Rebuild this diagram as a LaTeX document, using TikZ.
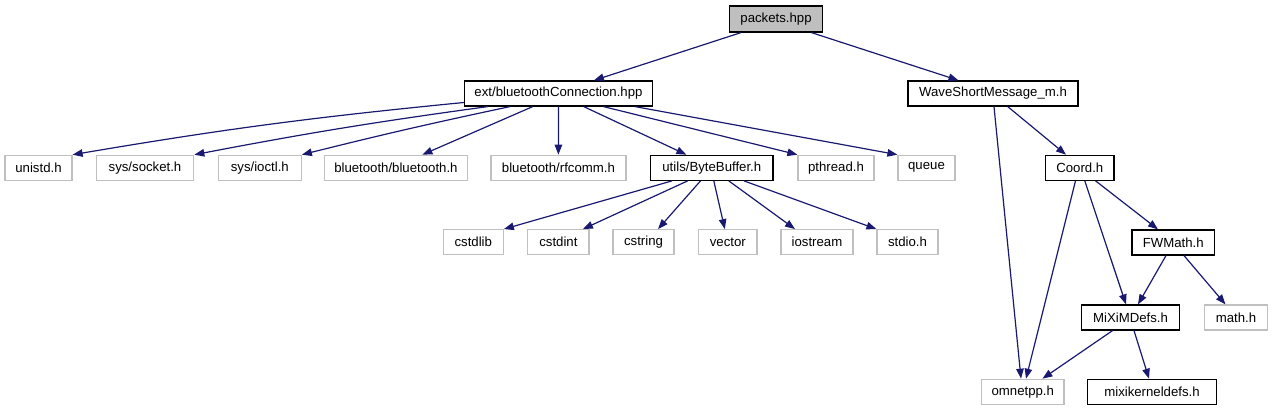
\documentclass[tikz,border=0pt]{standalone}
\usepackage{fontspec}
\setmainfont{Liberation Sans}
\usetikzlibrary{arrows.meta}
\definecolor{edgeblue}{HTML}{191970}
\definecolor{lgray}{HTML}{C0C0C0}
\definecolor{rootfill}{HTML}{BFBFBF}
\begin{document}
\begin{tikzpicture}[x=1pt,y=-1pt,
  box/.style={draw=black,line width=1.2pt,minimum height=25pt,inner sep=0pt,
    font=\fontsize{13.2}{15}\selectfont},
  gbox/.style={box,draw=lgray},
  edge/.style={draw=edgeblue,line width=1.2pt,-{Triangle[length=10pt,width=7.5pt]}}]
\useasboundingbox (0,0) rectangle (1272,411);
% row 0
\node[box,fill=rootfill,minimum width=93pt,minimum height=26pt] (packets) at (776,19) {packets.hpp};
% row 1
\node[box,minimum width=188pt] (ext) at (558.5,93.5) {ext/bluetoothConnection.hpp};
\node[box,minimum width=170pt] (wsm) at (993,93.5) {WaveShortMessage\_m.h};
% row 2
\node[gbox,minimum width=67pt] (unistd) at (38.5,167.8) {unistd.h};
\node[gbox,minimum width=97.5pt] (socket) at (145,167.8) {sys/socket.h};
\node[gbox,minimum width=83pt] (ioctl) at (259.8,167.8) {sys/ioctl.h};
\node[gbox,minimum width=143pt] (bt) at (395.9,167.8) {bluetooth/bluetooth.h};
\node[gbox,minimum width=135pt] (rfcomm) at (558.4,167.8) {bluetooth/rfcomm.h};
\node[box,minimum width=122.5pt] (bb) at (711.8,167.8) {utils/ByteBuffer.h};
\node[gbox,minimum width=76pt] (pthread) at (836,167.8) {pthread.h};
\node[gbox,minimum width=57pt] (queue) at (926.5,167.8) {queue};
\node[box,minimum width=68.4pt] (coord) at (1079.8,167.8) {Coord.h};
% row 3
\node[gbox,minimum width=60pt] (cstdlib) at (473.3,242.2) {cstdlib};
\node[gbox,minimum width=61.2pt] (cstdint) at (558.4,242.2) {cstdint};
\node[gbox,minimum width=61pt] (cstring) at (643.5,242.2) {cstring};
\node[gbox,minimum width=58.5pt] (vector) at (727.8,242.2) {vector};
\node[gbox,minimum width=72pt] (iostream) at (817,242.2) {iostream};
\node[gbox,minimum width=61pt] (stdio) at (907.5,242.2) {stdio.h};
\node[box,minimum width=82.6pt] (fwmath) at (1173.3,242.5) {FWMath.h};
% row 4
\node[box,minimum width=98pt] (mixim) at (1130.5,317.5) {MiXiMDefs.h};
\node[gbox,minimum width=63pt] (math) at (1236,317.5) {math.h};
% row 5
\node[gbox,minimum width=82.5pt] (omnetpp) at (1022.8,391.8) {omnetpp.h};
\node[box,minimum width=129pt] (mixik) at (1152,391.8) {mixikerneldefs.h};
% edges
\draw[edge] ([xshift=-35pt]packets.south) -- ([xshift=35.4pt]ext.north);
\draw[edge] ([xshift=35.4pt]packets.south) -- ([xshift=-34.5pt]wsm.north);
\draw[edge] ([yshift=-9pt]ext.west) to[bend right=2] (unistd.north east);
\draw[edge] ([xshift=-70.7pt]ext.south) to[bend right=1.5] (socket.north east);
\draw[edge] ([xshift=-48.5pt]ext.south) to[bend right=1] (ioctl.north east);
\draw[edge] ([xshift=-25.8pt]ext.south) -- ([xshift=26.5pt]bt.north);
\draw[edge] (ext.south) -- (rfcomm.north);
\draw[edge] ([xshift=25.2pt]ext.south) -- ([xshift=-25.4pt]bb.north);
\draw[edge] ([xshift=45pt]ext.south) -- (pthread.north west);
\draw[edge] ([xshift=76.5pt]ext.south) -- (queue.north west);
\draw[edge] ([xshift=-39.8pt]bb.south) -- (cstdlib.north east);
\draw[edge] ([xshift=-24.2pt]bb.south) -- ([xshift=24.5pt]cstdint.north);
\draw[edge] ([xshift=-11.3pt]bb.south) -- ([xshift=14.5pt]cstring.north);
\draw[edge] ([xshift=2pt]bb.south) -- ([xshift=-3pt]vector.north);
\draw[edge] ([xshift=17pt]bb.south) -- ([xshift=-22pt]iostream.north);
\draw[edge] ([xshift=32.2pt]bb.south) -- (stdio.north west);
\draw[edge] ([xshift=1pt]wsm.south) -- ([xshift=-1.8pt]omnetpp.north);
\draw[edge] ([xshift=14.7pt]wsm.south) -- ([xshift=-13.8pt]coord.north);
\draw[edge] ([xshift=-4.3pt]coord.south) -- ([xshift=3.2pt]omnetpp.north);
\draw[edge] ([xshift=5pt]coord.south) -- ([xshift=-4.5pt]mixim.north);
\draw[edge] ([xshift=15.8pt]coord.south) -- ([xshift=-15.3pt]fwmath.north);
\draw[edge] ([xshift=-7.3pt]fwmath.south) -- ([xshift=7.5pt]mixim.north);
\draw[edge] ([xshift=10.7pt]fwmath.south) -- ([xshift=-10.5pt]math.north);
\draw[edge] ([xshift=-18pt]mixim.south) -- ([xshift=19.6pt]omnetpp.north);
\draw[edge] ([xshift=3.5pt]mixim.south) -- ([xshift=-3pt]mixik.north);
\end{tikzpicture}
\end{document}
